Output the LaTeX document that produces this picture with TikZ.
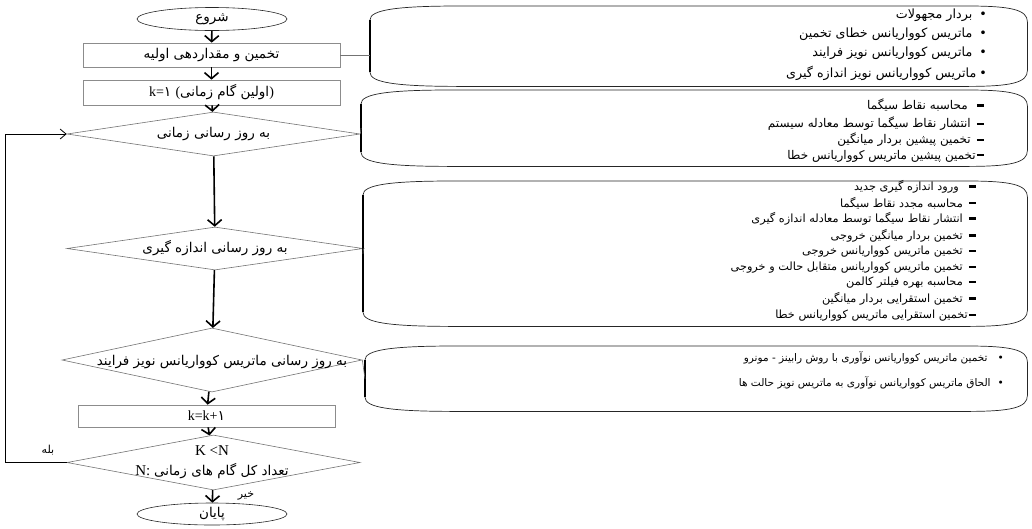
\documentclass[tikz,border=0pt]{standalone}
\usepackage{fontspec}
\setmainfont{Liberation Serif}
\newfontfamily\fa[Script=Arabic]{DejaVu Sans}
\TeXXeTstate=1
\usetikzlibrary{shapes.geometric,arrows.meta,calc}
\newcommand\drawscrollbox[1]{%
 \draw[boxline] ($(#1.north west)+(0,14)$) .. controls ($(#1.north west)+(0,4)$) and ($(#1.north west)+(25,0)$) .. ($(#1.north west)+(90,0)$) -- ($(#1.north east)+(-60,0)$) .. controls ($(#1.north east)+(-15,0)$) and ($(#1.north east)+(0,4)$) .. ($(#1.north east)+(0,16)$) -- ($(#1.south east)+(0,-16)$) .. controls ($(#1.south east)+(0,-4)$) and ($(#1.south east)+(-15,0)$) .. ($(#1.south east)+(-60,0)$) -- ($(#1.south west)+(90,0)$) .. controls ($(#1.south west)+(25,0)$) and ($(#1.south west)+(0,-4)$) .. ($(#1.south west)+(0,-14)$) -- cycle;
 \draw[line width=1.4pt] ($(#1.north west)+(0,14)$) -- ($(#1.south west)+(0,-14)$);
}
\newcommand\dashbul{\rule[3pt]{7pt}{2.2pt}}
\tikzset{
 flowrect/.style={draw=black!45, line width=0.7pt, minimum width=257pt, inner sep=0pt, font=\fa\fontsize{13.5}{15}\selectfont},
 term/.style={ellipse, draw=black!85, line width=0.6pt, inner sep=0pt, font=\fa\fontsize{13.5}{15}\selectfont},
 dia/.style={diamond, draw=black!55, line width=0.6pt, inner sep=0pt},
 dtext/.style={font=\fa\fontsize{13.5}{15}\selectfont, inner sep=0pt},
 latin/.style={inner sep=0pt, font=\fontsize{15}{17}\selectfont},
 mainarrow/.style={line width=1.6pt, -{Straight Barb[length=6pt,width=14pt]}},
 thinline/.style={draw=black!55, line width=0.6pt},
 boxline/.style={draw=black!85, line width=0.7pt},
 area/.style={draw=none, inner sep=0pt},
 itembase/.style={anchor=east, inner sep=0pt},
 itema/.style={itembase, font=\fa\fontsize{12.7}{14}\selectfont},
 itemb/.style={itembase, font=\fa\fontsize{12}{14}\selectfont},
 itemc/.style={itembase, font=\fa\fontsize{11.3}{13}\selectfont},
 itemd/.style={itembase, font=\fa\fontsize{10.5}{12}\selectfont},
 lab/.style={inner sep=0pt, font=\fa\fontsize{11}{13}\selectfont},
}
\begin{document}
\begin{tikzpicture}[x=1pt,y=-1pt]
\useasboundingbox (0,0) rectangle (1032,528);
% flowchart
\node[term, minimum width=150pt, minimum height=23pt] (s) at (212,19) {شروع};
\node[flowrect, minimum height=24pt] (r1) at (211.5,55) {\beginR تخمین و مقداردهی اولیه\endR};
\node[flowrect, minimum height=25pt] (r2) at (211.5,92.5) {\normalfont\fontsize{14}{16}\selectfont k=\hbox{\fa ۱}\hspace{4pt}(\hbox{\fa\fontsize{13.5}{15}\selectfont\beginR اولین گام زمانی\endR})};
\node[dia, minimum width=293pt, minimum height=44pt, label={[dtext]center:{\beginR به روز رسانی زمانی\endR}}] (d1) at (213.5,134) {};
\node[dia, minimum width=296pt, minimum height=43pt, label={[dtext]center:{\beginR به روز رسانی اندازه گیری\endR}}] (d2) at (215,248.5) {};
\node[dia, minimum width=300pt, minimum height=64pt, label={[dtext, xshift=10pt, yshift=-2pt]center:{\beginR به روز رسانی ماتریس کوواریانس نویز فرایند\endR}}] (d3) at (212,360) {};
\node[flowrect, minimum height=22pt] (r3) at (206.5,416) {\normalfont\fontsize{14}{16}\selectfont k=k+\hbox{\fa ۱}};
\node[dia, minimum width=293pt, minimum height=55pt] (d4) at (213.5,462.5) {};
\node[latin] (d4a) at (212,451) {K <N};
\node[latin] (d4b) at (212,471) {N:\ \hbox{\fa\fontsize{13.5}{15}\selectfont\beginR تعداد کل گام های زمانی\endR}};
\node[term, minimum width=150pt, minimum height=22pt] (e) at (212,514) {پایان};
\draw[mainarrow] (s) -- (r1);
\draw[mainarrow] (r1) -- (r2);
\draw[mainarrow] (r2) -- (d1);
\draw[mainarrow] (d1) -- (d2);
\draw[mainarrow] (d2) -- (d3);
\draw[mainarrow] (d3) -- (r3);
\draw[mainarrow] (r3) -- (d4);
\draw[mainarrow] (d4) -- (e);
\coordinate (lb) at (5,462.5);
\coordinate (lt) at (5,134);
\draw[line width=0.8pt, -{Straight Barb[length=6pt,width=10pt]}] (d4.west) -- (lb) -- (lt) -- (d1.west);
\node[lab] (yes) at (48,450) {بله};
\node[lab] (no) at (246,496) {خیر};
% right boxes
\node[area, anchor=north west, minimum width=657pt, minimum height=80pt] (b1) at (370,6) {};
\node[area, anchor=north west, minimum width=666pt, minimum height=76pt] (b2) at (361,90) {};
\node[area, anchor=north west, minimum width=664pt, minimum height=145pt] (b3) at (363,181) {};
\node[area, anchor=north west, minimum width=662pt, minimum height=65pt] (b4) at (365,346) {};
\drawscrollbox{b1}
\drawscrollbox{b2}
\drawscrollbox{b3}
\drawscrollbox{b4}
\draw[thinline] (r1.east) -- (r1.east -| b1.west);
\draw[thinline] (d1.east) -- (b2.west);
\draw[thinline] (d2.east) -- (b3.west);
\draw[thinline] (d3.east) -- (b4.west);
% box 1
\node[itema] (b1i1) at (987,15) {\beginR•\hspace{7pt}بردار مجهولات\endR};
\node[itema] (b1i2) at (987,34) {\beginR•\hspace{7pt}ماتریس کوواریانس خطای تخمین\endR};
\node[itema] (b1i3) at (987,53) {\beginR•\hspace{7pt}ماتریس کوواریانس نویز فرایند\endR};
\node[itema] (b1i4) at (987,73) {\beginR•\hspace{3pt}ماتریس کوواریانس نویز اندازه گیری\endR};
% box 2
\node[itemb] (b2i1) at (984,105) {\beginR\dashbul\hspace{9pt}محاسبه نقاط سیگما\endR};
\node[itemb] (b2i2) at (984,124) {\beginR\dashbul\hspace{6pt}انتشار نقاط سیگما توسط معادله سیستم\endR};
\node[itemb] (b2i3) at (984,140) {\beginR\dashbul\hspace{6pt}تخمین پیشین بردار میانگین\endR};
\node[itemb] (b2i4) at (984,156) {\beginR\dashbul\hspace{1pt}تخمین پیشین ماتریس کوواریانس خطا\endR};
% box 3
\node[itemc] (b3i1) at (976,187) {\beginR\dashbul\hspace{10pt}ورود اندازه گیری جدید\endR};
\node[itemc] (b3i2) at (976,203) {\beginR\dashbul\hspace{6pt}محاسبه مجدد نقاط سیگما\endR};
\node[itemc] (b3i3) at (976,219) {\beginR\dashbul\hspace{6pt}انتشار نقاط سیگما توسط معادله اندازه گیری\endR};
\node[itemc] (b3i4) at (976,236) {\beginR\dashbul\hspace{6pt}تخمین بردار میانگین خروجی\endR};
\node[itemc] (b3i5) at (976,252) {\beginR\dashbul\hspace{6pt}تخمین ماتریس کوواریانس خروجی\endR};
\node[itemc] (b3i6) at (976,268) {\beginR\dashbul\hspace{6pt}تخمین ماتریس کوواریانس متقابل حالت و خروجی\endR};
\node[itemc] (b3i7) at (976,283) {\beginR\dashbul\hspace{6pt}محاسبه بهره فیلتر کالمن\endR};
\node[itemc] (b3i8) at (976,299) {\beginR\dashbul\hspace{6pt}تخمین استقرایی بردار میانگین\endR};
\node[itemc] (b3i9) at (976,316) {\beginR\dashbul\hspace{1pt}تخمین استقرایی ماتریس کوواریانس خطا\endR};
% box 4
\node[itemd] (b4i1) at (1004,358) {\beginR•\hspace{10pt}تخمین ماتریس کوواریانس نوآوری با روش رابینز - مونرو\endR};
\node[itemd] (b4i2) at (1004,383) {\beginR•\hspace{7pt}الحاق ماتریس کوواریانس نوآوری به ماتریس نویز حالت ها\endR};
\end{tikzpicture}
\end{document}
